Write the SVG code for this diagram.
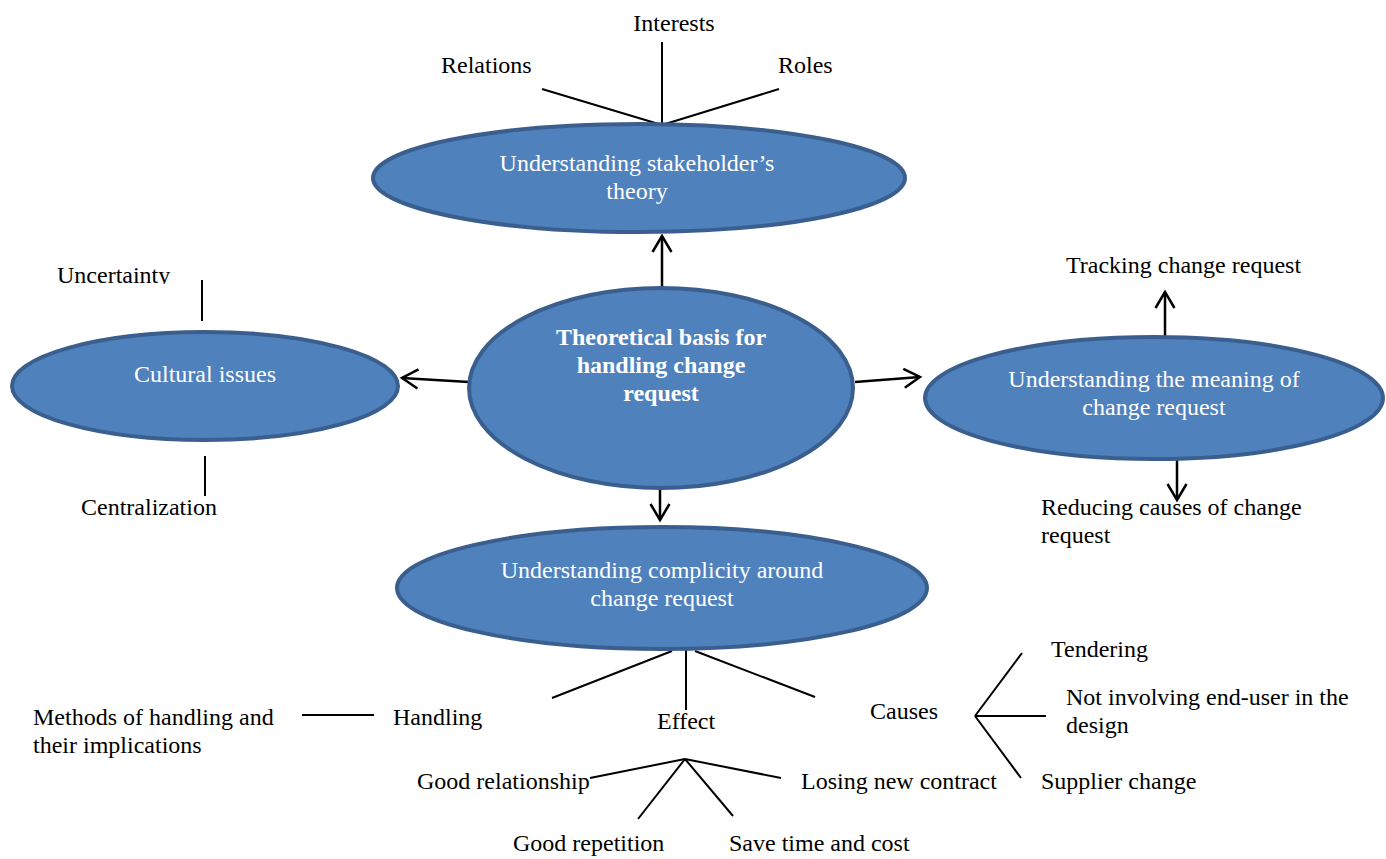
<svg xmlns="http://www.w3.org/2000/svg" width="1386" height="859" viewBox="0 0 1386 859">
  <style>
    .node { fill: #4f81bd; stroke: #3a5f8e; stroke-width: 4; }
    .in { font-family: "Liberation Serif", "Times New Roman", serif; font-size: 24px; fill: #ffffff; text-anchor: middle; }
    .inb { font-family: "Liberation Serif", "Times New Roman", serif; font-size: 24px; font-weight: bold; fill: #ffffff; text-anchor: middle; }
    .lbl { font-family: "Liberation Serif", "Times New Roman", serif; font-size: 24px; fill: #000000; }
    .ln { stroke: #000000; stroke-width: 2; fill: none; }
    .arr { stroke: #000000; stroke-width: 2.5; fill: none; marker-end: url(#head); }
  </style>
  <defs>
    <marker id="head" markerUnits="userSpaceOnUse" markerWidth="22" markerHeight="26" viewBox="-19 -13 22 26" refX="0" refY="0" orient="auto">
      <path d="M -16 -9.5 L 0 0 L -16 9.5" fill="none" stroke="#000000" stroke-width="2.5"/>
    </marker>
    <clipPath id="cutTop">
      <rect x="0" y="0" width="400" height="284"/>
    </clipPath>
  </defs>
  <rect width="1386" height="859" fill="#ffffff"/>

  <!-- connectors -->
  <g id="connectors">
    <!-- arrows from the central node -->
    <line class="arr" x1="662" y1="288" x2="662" y2="236"/>
    <line class="arr" x1="469" y1="382" x2="402" y2="378"/>
    <line class="arr" x1="855" y1="382" x2="920" y2="377"/>
    <line class="arr" x1="660" y1="489" x2="660" y2="520"/>
    <!-- meaning of change request -->
    <line class="arr" x1="1165" y1="336" x2="1165" y2="292"/>
    <line class="arr" x1="1177" y1="458" x2="1177" y2="500"/>
    <!-- stakeholder branches -->
    <line class="ln" x1="662" y1="42" x2="662" y2="125"/>
    <line class="ln" x1="542" y1="89" x2="662" y2="125"/>
    <line class="ln" x1="779" y1="89" x2="662" y2="125"/>
    <!-- cultural issues branches -->
    <line class="ln" x1="202" y1="280" x2="202" y2="321"/>
    <line class="ln" x1="205" y1="456" x2="205" y2="496"/>
    <!-- complicity branches -->
    <line class="ln" x1="686" y1="631" x2="686" y2="710"/>
    <line class="ln" x1="672" y1="651" x2="552" y2="698"/>
    <line class="ln" x1="695" y1="651" x2="815" y2="697"/>
    <line class="ln" x1="302" y1="715" x2="374" y2="715"/>
    <!-- causes -->
    <line class="ln" x1="975" y1="716" x2="1022" y2="653"/>
    <line class="ln" x1="975" y1="716" x2="1046" y2="716"/>
    <line class="ln" x1="975" y1="716" x2="1021" y2="778"/>
    <!-- effect -->
    <line class="ln" x1="685" y1="759" x2="590" y2="778"/>
    <line class="ln" x1="685" y1="759" x2="638" y2="819"/>
    <line class="ln" x1="685" y1="759" x2="733" y2="816"/>
    <line class="ln" x1="685" y1="759" x2="781" y2="778"/>
  </g>

  <g id="stakeholder">
    <ellipse class="node" cx="639" cy="178" rx="266" ry="54"/>
    <text class="in" x="637" y="171">Understanding stakeholder’s</text>
    <text class="in" x="637" y="199">theory</text>
  </g>

  <g id="core">
    <ellipse class="node" cx="661" cy="388" rx="192" ry="100"/>
    <text class="inb" x="661" y="345">Theoretical basis for</text>
    <text class="inb" x="661" y="373">handling change</text>
    <text class="inb" x="661" y="401">request</text>
  </g>

  <g id="cultural">
    <ellipse class="node" cx="205" cy="386" rx="193" ry="54"/>
    <text class="in" x="205" y="382">Cultural issues</text>
  </g>

  <g id="meaning">
    <ellipse class="node" cx="1154" cy="398" rx="229" ry="61"/>
    <text class="in" x="1154" y="387">Understanding the meaning of</text>
    <text class="in" x="1154" y="415">change request</text>
  </g>

  <g id="complicity">
    <ellipse class="node" cx="662" cy="588" rx="265" ry="61"/>
    <text class="in" x="662" y="578">Understanding complicity around</text>
    <text class="in" x="662" y="606">change request</text>
  </g>

  <g id="labels">
    <text class="lbl" x="674" y="31" text-anchor="middle">Interests</text>
    <text class="lbl" x="441" y="73">Relations</text>
    <text class="lbl" x="778" y="73">Roles</text>
    <text class="lbl" x="57" y="283" clip-path="url(#cutTop)">Uncertainty</text>
    <text class="lbl" x="81" y="515">Centralization</text>
    <text class="lbl" x="1066" y="273">Tracking change request</text>
    <text class="lbl" x="1041" y="515">Reducing causes of change</text>
    <text class="lbl" x="1041" y="543">request</text>
    <text class="lbl" x="33" y="725">Methods of handling and</text>
    <text class="lbl" x="33" y="753">their implications</text>
    <text class="lbl" x="393" y="725">Handling</text>
    <text class="lbl" x="657" y="729">Effect</text>
    <text class="lbl" x="870" y="719">Causes</text>
    <text class="lbl" x="1051" y="657">Tendering</text>
    <text class="lbl" x="1066" y="705">Not involving end-user in the</text>
    <text class="lbl" x="1066" y="733">design</text>
    <text class="lbl" x="1041" y="789">Supplier change</text>
    <text class="lbl" x="417" y="789">Good relationship</text>
    <text class="lbl" x="801" y="789">Losing new contract</text>
    <text class="lbl" x="513" y="851">Good repetition</text>
    <text class="lbl" x="729" y="851">Save time and cost</text>
  </g>
</svg>
